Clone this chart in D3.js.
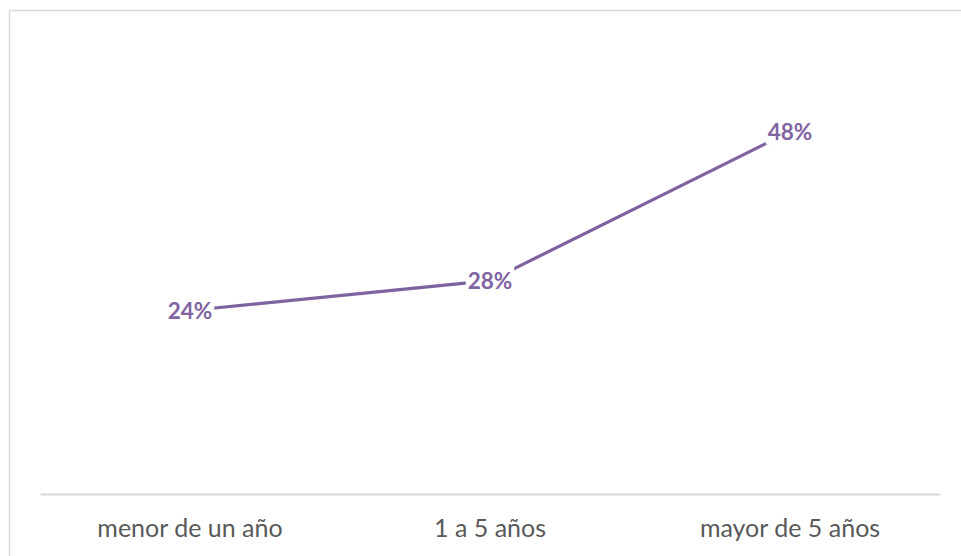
<!DOCTYPE html>
<html>
<head>
<meta charset="utf-8">
<script src="https://cdn.jsdelivr.net/npm/d3@7"></script>
<style>
  html, body { margin: 0; padding: 0; background: #fff; }
  svg { display: block; }
</style>
</head>
<body>
<svg id="chart" width="961" height="556"></svg>
<script>
const categories = ["menor de un año", "1 a 5 años", "mayor de 5 años"];
const values = [24, 28, 48];
const valueLabels = ["24%", "28%", "48%"];
const yDomain = [0, 60];

const svg = d3.select("#chart");
const W = 961, H = 556;
const plotBottom = 494;

// outer chart border
svg.append("rect")
  .attr("x", 9.5).attr("y", 10.5)
  .attr("width", W).attr("height", H)
  .attr("fill", "none").attr("stroke", "#d9d9d9").attr("stroke-width", 1.5);

const x = d3.scaleBand().domain(categories).range([40, 940]);
const y = d3.scaleLinear().domain(yDomain).range([489.5, 42]);

// category axis
const xAxis = d3.axisBottom(x).tickSize(0).tickPadding(0);
const gx = svg.append("g").attr("transform", `translate(0,${plotBottom})`).call(xAxis);
gx.select(".domain").attr("stroke", "#d9d9d9").attr("stroke-width", 2);
gx.selectAll("text")
  .attr("dy", null)
  .attr("y", 43)
  .attr("fill", "#595959")
  .style("font-family", "Lato, 'Open Sans', sans-serif")
  .style("font-size", "25px");

const cx = d => x(d) + x.bandwidth() / 2;

const pts = categories.map((c, i) => ({ c, v: values[i], label: valueLabels[i] }));

svg.append("path")
  .datum(pts)
  .attr("fill", "none")
  .attr("stroke", "#7f63a1")
  .attr("stroke-width", 3.2)
  .attr("d", d3.line().x(d => cx(d.c)).y(d => y(d.v)));

const lab = svg.append("g").selectAll("g").data(pts).join("g")
  .attr("transform", d => `translate(${cx(d.c)},${y(d.v)})`);

lab.append("text")
  .attr("text-anchor", "middle")
  .attr("y", 8)
  .attr("fill", "#8064a2")
  .style("font-family", "Lato, 'Open Sans', sans-serif")
  .style("font-weight", "bold")
  .style("font-size", "22.5px")
  .text(d => d.label);

lab.each(function() {
  const g = d3.select(this);
  const bb = g.select("text").node().getBBox();
  g.insert("rect", "text")
    .attr("x", bb.x - 2).attr("y", bb.y)
    .attr("width", bb.width + 4).attr("height", bb.height)
    .attr("fill", "#fff");
});
</script>
</body>
</html>
